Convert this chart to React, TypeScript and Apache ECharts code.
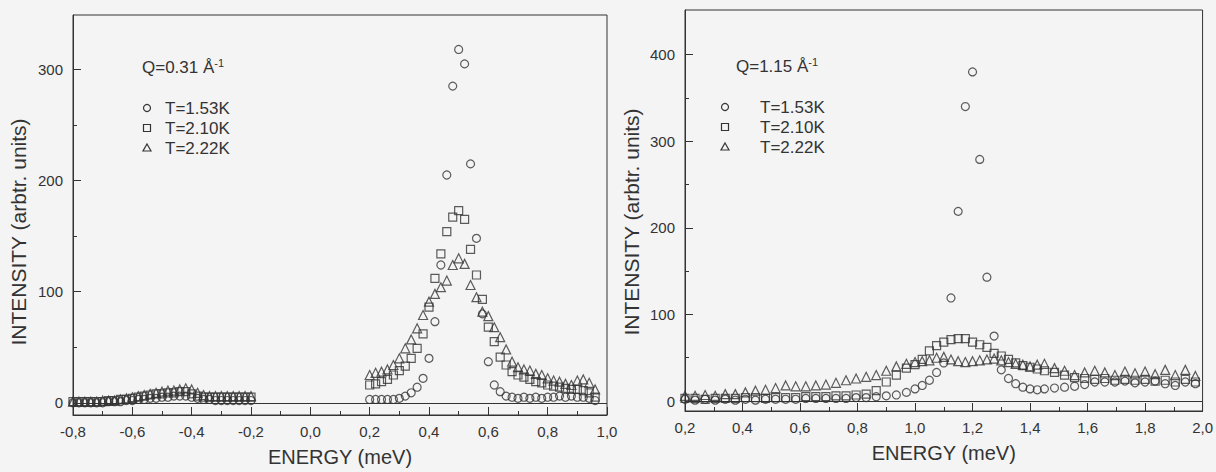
import React, { useEffect, useRef } from "react";
import * as echarts from "echarts";

// ---------- Left panel: Q = 0.31 Å^-1 ----------
const leftEnergyNeg = [-0.8, -0.78, -0.76, -0.74, -0.72, -0.7, -0.68, -0.66, -0.64, -0.62, -0.6, -0.58, -0.56, -0.54, -0.52, -0.5, -0.48, -0.46, -0.44, -0.42, -0.4, -0.38, -0.36, -0.34, -0.32, -0.3, -0.28, -0.26, -0.24, -0.22, -0.2];
const leftEnergyPos = [0.2, 0.22, 0.24, 0.26, 0.28, 0.3, 0.32, 0.34, 0.36, 0.38, 0.4, 0.42, 0.44, 0.46, 0.48, 0.5, 0.52, 0.54, 0.56, 0.58, 0.6, 0.62, 0.64, 0.66, 0.68, 0.7, 0.72, 0.74, 0.76, 0.78, 0.8, 0.82, 0.84, 0.86, 0.88, 0.9, 0.92, 0.94, 0.96];

const leftT153Neg = [0, 0, 0, 0, 0, 0, 1, 1, 1, 2, 2, 3, 3, 4, 4, 5, 5, 6, 6, 6, 5, 4, 3, 3, 2, 2, 2, 2, 2, 2, 2];
const leftT210Neg = [1, 1, 1, 1, 1, 1, 2, 2, 3, 3, 4, 5, 6, 7, 8, 8, 9, 9, 10, 10, 8, 6, 5, 5, 5, 5, 5, 5, 5, 5, 5];
const leftT222Neg = [1, 1, 1, 1, 1, 2, 2, 2, 3, 4, 5, 6, 7, 8, 9, 10, 11, 11, 12, 13, 12, 9, 7, 6, 6, 6, 6, 6, 6, 6, 6];

const leftT153Pos = [3, 3, 3, 3, 3, 4, 6, 9, 14, 22, 40, 73, 124, 205, 285, 318, 305, 215, 148, 80, 37, 16, 10, 6, 5, 4, 5, 4, 5, 4, 5, 5, 6, 5, 6, 5, 5, 4, 2];
const leftT210Pos = [16, 17, 19, 21, 25, 29, 33, 40, 49, 62, 86, 112, 134, 154, 167, 173, 165, 138, 115, 93, 68, 55, 41, 34, 28, 25, 23, 21, 19, 18, 16, 15, 14, 13, 12, 12, 11, 9, 5];
const leftT222Pos = [25, 27, 28, 30, 34, 40, 49, 57, 67, 79, 91, 98, 104, 110, 124, 130, 125, 106, 95, 82, 78, 68, 59, 48, 37, 32, 30, 29, 26, 25, 22, 20, 19, 17, 16, 20, 21, 18, 12];

const leftXTicks = [-0.8, 1.0];
const leftYMajor = [0, 100, 200, 300];
const leftYMinor = [50, 150, 250];

// ---------- Right panel: Q = 1.15 Å^-1 ----------
const rightEnergy = [0.2, 0.235, 0.27, 0.305, 0.34, 0.375, 0.41, 0.445, 0.48, 0.515, 0.55, 0.585, 0.62, 0.655, 0.69, 0.725, 0.76, 0.795, 0.83, 0.865, 0.9, 0.935, 0.97,
  1.0, 1.025, 1.05, 1.075, 1.1, 1.125, 1.15, 1.175, 1.2, 1.225, 1.25, 1.275, 1.3, 1.325, 1.35, 1.375, 1.4, 1.425, 1.45,
  1.485, 1.52, 1.555, 1.59, 1.625, 1.66, 1.695, 1.73, 1.765, 1.8, 1.835, 1.87, 1.905, 1.94, 1.975];
const rightT153 = [2, 1, 2, 1, 2, 1, 2, 1, 2, 2, 2, 2, 3, 3, 3, 3, 3, 4, 4, 5, 6, 7, 10,
  14, 18, 24, 33, 44, 119, 219, 340, 380, 279, 143, 75, 36, 26, 20, 16, 14, 13, 14,
  15, 16, 17, 19, 22, 22, 22, 23, 21, 22, 23, 20, 18, 22, 20];
const rightT210 = [3, 3, 2, 3, 3, 3, 4, 4, 3, 4, 4, 4, 5, 5, 5, 6, 6, 7, 8, 12, 22, 30, 38,
  42, 48, 58, 64, 68, 71, 72, 72, 68, 65, 62, 55, 52, 48, 44, 41, 39, 37, 35,
  33, 30, 27, 26, 25, 26, 24, 25, 24, 25, 23, 24, 22, 25, 22];
const rightT222 = [6, 6, 7, 6, 8, 8, 10, 12, 13, 15, 18, 17, 17, 18, 19, 21, 24, 26, 28, 30, 35, 40, 43,
  45, 46, 47, 50, 51, 48, 46, 45, 46, 47, 48, 49, 47, 45, 43, 42, 40, 42, 43,
  38, 35, 30, 33, 35, 33, 30, 34, 32, 34, 31, 36, 30, 36, 29];

const rightXTicks = [0.2, 2.0];
const rightYMajor = [0, 100, 200, 300, 400];
const rightYMinor = [50, 150, 250, 350];

const seriesNames = ["T=1.53K", "T=2.10K", "T=2.22K"];
const seriesSymbols = ["circle", "rect", "triangle"];

const INK = "#333";
const FONT = "'Liberation Sans', Arial, sans-serif";

const zip = (xs: number[], ys: number[]) => xs.map((x, i) => [x, ys[i]]);
const fmt = (v: number) => (Math.abs(v) < 1e-9 ? 0 : v).toFixed(1).replace(".", ",");

function makeXAxis(gridIndex: number, ticks: number[]) {
  return {
    type: "value",
    gridIndex,
    min: ticks[0],
    max: ticks[1],
    interval: 0.2,
    axisLine: { show: true, onZero: false, lineStyle: { color: INK, width: 1 } },
    axisTick: { show: true, inside: true, length: 8, lineStyle: { color: INK } },
    minorTick: { show: true, splitNumber: 2, length: 4, lineStyle: { color: INK } },
    splitLine: { show: false },
    minorSplitLine: { show: false },
    axisLabel: { color: INK, fontSize: 15, fontFamily: FONT, margin: 9, formatter: fmt },
    name: "ENERGY (meV)",
    nameLocation: "middle",
    nameGap: 32,
    nameTextStyle: { color: INK, fontSize: 20, fontFamily: FONT },
  };
}

function makeYAxes(gridIndex: number, min: number, max: number, major: number[], minor: number[]) {
  return [
    {
      type: "value",
      gridIndex,
      min,
      max,
      position: "left",
      axisLine: { show: true, onZero: false, lineStyle: { color: INK, width: 1 } },
      axisTick: { show: true, inside: true, length: 8, customValues: major, lineStyle: { color: INK } },
      axisLabel: { color: INK, fontSize: 15, fontFamily: FONT, margin: 10, customValues: major },
      splitLine: { show: false },
    },
    {
      type: "value",
      gridIndex,
      min,
      max,
      position: "left",
      axisLine: { show: false, onZero: false },
      axisTick: { show: true, inside: true, length: 4, customValues: minor, lineStyle: { color: INK } },
      axisLabel: { show: false },
      splitLine: { show: false },
    },
  ];
}

function makeSeries(xAxisIndex: number, yAxisIndex: number, datasets: number[][][]) {
  return datasets.map((data, i) => ({
    name: seriesNames[i],
    type: "scatter",
    xAxisIndex,
    yAxisIndex,
    symbol: seriesSymbols[i],
    symbolSize: i === 2 ? 9 : 8,
    itemStyle: { color: "rgba(0,0,0,0)", borderColor: INK, borderWidth: 1.2 },
    data,
    markLine:
      i === 0
        ? {
            silent: true,
            symbol: ["none", "none"],
            label: { show: false },
            lineStyle: { color: INK, width: 1, type: "solid" },
            data: [{ yAxis: 0 }],
          }
        : undefined,
  }));
}

function legendGraphics(symX: number, textX: number, titleX: number, titleText: string, rows: number[], titleY: number) {
  const r = 3.5;
  const els: any[] = [
    {
      type: "text",
      x: titleX,
      y: titleY,
      style: {
        text: titleText + "{s|-1}",
        fill: INK,
        fontSize: 17,
        fontFamily: FONT,
        lineHeight: 20,
        verticalAlign: "middle",
        rich: { s: { fontSize: 11, fontFamily: FONT, fill: INK, verticalAlign: "top", lineHeight: 20 } },
      },
    },
    { type: "circle", shape: { cx: symX, cy: rows[0], r }, style: { fill: "none", stroke: INK, lineWidth: 1.2 } },
    { type: "rect", shape: { x: symX - r, y: rows[1] - r, width: 2 * r, height: 2 * r }, style: { fill: "none", stroke: INK, lineWidth: 1.2 } },
    {
      type: "polygon",
      shape: { points: [[symX, rows[2] - 4], [symX + 4, rows[2] + 3], [symX - 4, rows[2] + 3]] },
      style: { fill: "none", stroke: INK, lineWidth: 1.2 },
    },
  ];
  seriesNames.forEach((n, i) => {
    els.push({
      type: "text",
      x: textX,
      y: rows[i],
      style: { text: n, fill: INK, fontSize: 17, fontFamily: FONT, verticalAlign: "middle" },
    });
  });
  return els;
}

export default function App() {
  const ref = useRef<HTMLDivElement>(null);
  useEffect(() => {
    if (!ref.current) return;
    const chart = echarts.init(ref.current, null, { renderer: "svg" });
    const leftEnergy = [...leftEnergyNeg, ...leftEnergyPos];
    const leftData = [
      zip(leftEnergy, [...leftT153Neg, ...leftT153Pos]),
      zip(leftEnergy, [...leftT210Neg, ...leftT210Pos]),
      zip(leftEnergy, [...leftT222Neg, ...leftT222Pos]),
    ];
    const rightData = [zip(rightEnergy, rightT153), zip(rightEnergy, rightT210), zip(rightEnergy, rightT222)];

    const yLabel = "INTENSITY (arbtr. units)";
    chart.setOption({
      animation: false,
      backgroundColor: "#f4f4f4",
      textStyle: { fontFamily: FONT },
      grid: [
        { left: 73, top: 15, width: 534, height: 402, show: true, borderColor: INK, borderWidth: 1, backgroundColor: "transparent" },
        { left: 685, top: 10, width: 531, height: 401, show: true, borderColor: INK, borderWidth: 1, backgroundColor: "transparent" },
      ],
      xAxis: [makeXAxis(0, leftXTicks), makeXAxis(1, rightXTicks)],
      yAxis: [
        ...makeYAxes(0, -11, 349, leftYMajor, leftYMinor),
        ...makeYAxes(1, -11.5, 451.5, rightYMajor, rightYMinor),
      ],
      series: [...makeSeries(0, 0, leftData), ...makeSeries(1, 2, rightData)],
      graphic: [
        ...legendGraphics(147, 165, 142, "Q=0.31 Å", [108, 128, 148], 67),
        ...legendGraphics(725, 760, 736, "Q=1.15 Å", [107, 127, 147], 66),
        {
          type: "text",
          x: 18,
          y: 232,
          rotation: Math.PI / 2,
          style: { text: yLabel, fill: INK, fontSize: 21, fontFamily: FONT, align: "center", verticalAlign: "middle" },
        },
        {
          type: "text",
          x: 631,
          y: 222,
          rotation: Math.PI / 2,
          style: { text: yLabel, fill: INK, fontSize: 21, fontFamily: FONT, align: "center", verticalAlign: "middle" },
        },
      ],
    });
    return () => chart.dispose();
  }, []);
  return <div ref={ref} style={{ position: "fixed", left: 0, top: 0, width: 1216, height: 472 }} />;
}
